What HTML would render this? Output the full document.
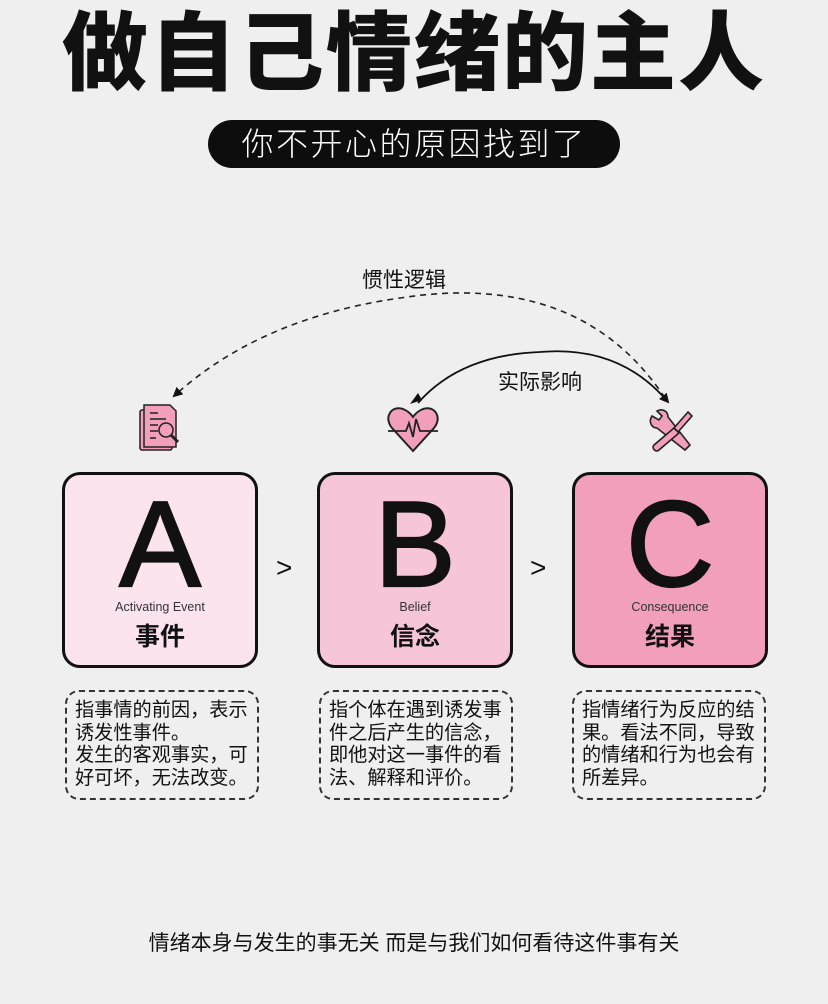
<!DOCTYPE html>
<html><head><meta charset="utf-8"><style>
body{margin:0;width:828px;height:1004px;background:#efefef;position:relative;overflow:hidden;font-family:"Liberation Sans","Noto Sans CJK SC",sans-serif;color:#111}
.abs{position:absolute}
.title{left:0;width:828px;top:4px;text-align:center;font-size:86px;font-weight:900;letter-spacing:2px;line-height:100px;white-space:nowrap}
.pill{left:208px;top:120px;width:412px;height:48px;background:#0d0d0d;border-radius:24px;color:#fff;font-size:32px;text-align:center;line-height:48px;letter-spacing:2.5px;font-weight:300}
.box{top:472px;width:190px;height:190px;border:3px solid #111;border-radius:18px;text-align:center}
.big{position:absolute;left:0;right:0;top:4px;font-size:122px;line-height:130px;font-weight:400;-webkit-text-stroke:2.2px #111}
.en{position:absolute;left:0;right:0;top:125px;font-size:12.5px;color:#333}
.cn{position:absolute;left:0;right:0;top:142px;font-size:25px;font-weight:bold}
.desc{top:690px;height:98px;border:2px dashed #333;border-radius:14px;font-size:19.2px;line-height:22.5px;padding:8px 0 0 8px;box-sizing:content-box;width:182px;letter-spacing:0}
.gt{font-size:28px;top:552px}
</style></head><body>
<div class="abs title">做自己情绪的主人</div>
<div class="abs pill">你不开心的原因找到了</div>
<div class="abs" style="left:362px;top:264px;font-size:21px">惯性逻辑</div>
<div class="abs" style="left:498px;top:366px;font-size:21px">实际影响</div>
<svg class="abs" style="left:0;top:0" width="828" height="1004">
<defs><marker id="ar" markerWidth="10" markerHeight="10" refX="8" refY="5" orient="auto" markerUnits="userSpaceOnUse"><path d="M0,0 L10,5 L0,10z" fill="#111"/></marker></defs>
<path d="M665,398 Q580,270 400,298 Q260,318 174,396" fill="none" stroke="#222" stroke-width="1.6" stroke-dasharray="6,5" marker-end="url(#ar)"/>
<path d="M418,403 Q460,355 540,352 Q620,345 668,402" fill="none" stroke="#111" stroke-width="1.8" marker-end="url(#ar)"/>
<path d="M410,404 l12,-4 l-4,-7z" fill="#111"/>
<g stroke="#222" stroke-width="1.5" fill="#f29fbc">
<rect x="140" y="410" width="32" height="40" rx="2"/>
<path d="M144,405 h26 l6,6 v36 h-32z"/>
<circle cx="166" cy="430" r="7" fill="#f29fbc"/>
<path d="M171,435 l7,7" stroke-width="3"/>
<path d="M150,413 h8 M150,419 h16 M150,425 h8 M150,431 h8 M150,438 h6" fill="none"/>
</g>
<path d="M413,451 L392,428 C383,417 392,405 403,409 C408,411 411,414 413,417 C415,414 418,411 423,409 C434,405 443,417 434,428 Z" fill="#f29fbc" stroke="#222" stroke-width="2"/>
<path d="M388,431 h18 l3,-8 l4,14 l3,-18 l4,12 h18" fill="none" stroke="#222" stroke-width="1.8"/>
<g stroke="#222" stroke-width="1.6" fill="#f29fbc">
<path d="M652,416 c-4,6 0,12 5,12 l28,22 l5,-5 l-22,-28 c0,-6 -6,-9 -11,-6 l5,5 l-3,4 z"/>
<path d="M688,412 l4,4 l-14,16 l-4,-4z"/>
<path d="M674,428 l5,5 l-20,17 c-3,3 -8,-2 -5,-5z"/>
</g>
</svg>
<div class="abs box" style="left:62px;background:#fce4ee"><div class="big">A</div><div class="en">Activating Event</div><div class="cn">事件</div></div>
<div class="abs gt" style="left:276px">&gt;</div>
<div class="abs box" style="left:317px;background:#f6c6d8"><div class="big">B</div><div class="en">Belief</div><div class="cn">信念</div></div>
<div class="abs gt" style="left:530px">&gt;</div>
<div class="abs box" style="left:572px;background:#f29fbc"><div class="big">C</div><div class="en">Consequence</div><div class="cn">结果</div></div>
<div class="abs desc" style="left:65px">指事情的前因，表示<br>诱发性事件。<br>发生的客观事实，可<br>好可坏，无法改变。</div>
<div class="abs desc" style="left:319px">指个体在遇到诱发事<br>件之后产生的信念，<br>即他对这一事件的看<br>法、解释和评价。</div>
<div class="abs desc" style="left:572px">指情绪行为反应的结<br>果。看法不同，导致<br>的情绪和行为也会有<br>所差异。</div>
<div class="abs" style="left:0;width:828px;text-align:center;top:927px;font-size:21px">情绪本身与发生的事无关 而是与我们如何看待这件事有关</div>
</body></html>
